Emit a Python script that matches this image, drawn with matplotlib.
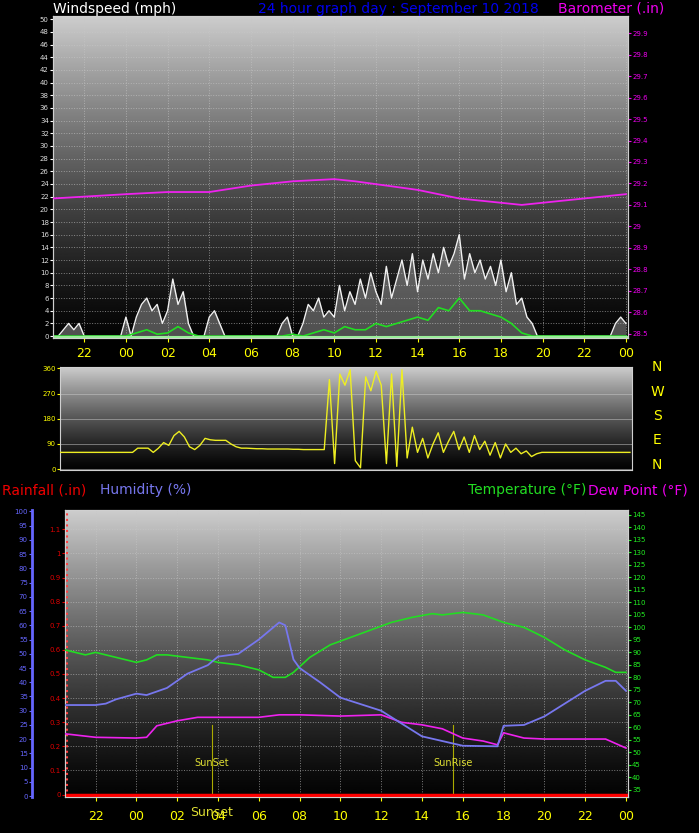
import numpy as np
import matplotlib
matplotlib.use("Agg")
import matplotlib.pyplot as plt

# ---------------- data ----------------
hour_ticks = [-2, 0, 2, 4, 6, 8, 10, 12, 14, 16, 18, 20, 22, 24]
hour_labels = ["22", "00", "02", "04", "06", "08", "10", "12", "14", "16", "18", "20", "22", "00"]

t_q = [-3.5 + 0.25 * i for i in range(111)]  # quarter-hour sample times
wind_gust = [0, 0, 1, 2, 1, 2, 0, 0, 0, 0, 0, 0, 0, 0,
             3, 0, 3, 5, 6, 4, 5, 2, 4, 9, 5, 7, 2, 0,
             0, 0, 3, 4, 2, 0,
             0, 0, 0, 0, 0, 0, 0, 0, 0, 0,
             2, 3, 0, 0, 2, 5, 4, 6, 3, 4, 3, 8, 4,
             7, 5, 9, 6, 10, 7, 5, 11, 6, 9, 12, 8, 13, 7, 12, 9, 13, 10, 14, 11, 13, 16,
             9, 13, 10, 12, 9, 11, 8, 12, 7, 10, 5, 6, 3, 2, 0,
             0, 0, 0, 0, 0, 0, 0, 0, 0, 0, 0, 0, 0, 0,
             2, 3, 2]
wind_dir = [60] * 14 + [60, 75, 75, 75, 60, 75, 95, 85, 120, 135, 115, 80, 70, 85, 110, 105, 103, 103, 103, 90, 80] + \
           [75, 75, 74, 73, 73, 72, 72, 72, 72, 72, 71, 71, 70, 70, 70, 70, 70] + \
           [320, 20, 340, 300, 355, 30, 5, 330, 280, 350, 300, 20, 340, 10, 355, 40] + \
           [150, 60, 110, 40, 90, 130, 60, 100, 135, 70, 115, 60, 120, 70, 100, 50, 95, 40, 90, 60, 75, 55, 65, 45, 55] + \
           [60] * 18

t_h = [-3.5 + 0.5 * i for i in range(56)]
wind_avg = [0] * 8 + [0.5, 1, 0.3, 0.5, 1.5, 0.5, 0] + [0] * 8 + \
           [0.3, 0, 0.5, 1, 0.5, 1.5, 1, 1, 2, 1.5, 2, 2.5, 3, 2.5, 4.5, 4, 6, 4, 4, 3.5, 3, 2, 0.5] + [0] * 10

baro_t = [-3.5, 0, 2, 4, 6, 8, 10, 11, 14, 16, 18, 19, 21, 23, 24]
baro = [29.13, 29.15, 29.16, 29.16, 29.19, 29.21, 29.22, 29.21, 29.17, 29.13, 29.11, 29.10, 29.12, 29.14, 29.15]

temp_t = [-3.5, -2.5, -2, -1, 0, 0.5, 1, 1.5, 2.5, 3.5, 4, 5, 6, 6.7, 7.3, 7.7, 8.5, 9.5, 10.5, 11.5,
          12.5, 13.5, 14.5, 15, 16, 17, 18, 19, 20, 21, 22, 23, 23.5, 24]
temp = [91, 89, 90, 88, 86, 87, 89, 89, 88, 87, 86, 85, 83, 80, 80, 82, 88, 93, 96, 99,
        102, 104, 105.5, 105, 106, 105, 102, 100, 96, 91, 87, 84, 82, 82]

hum_t = [-3.5, -2, -1.5, -1, 0, 0.5, 1.5, 2.5, 3.5, 4, 5, 6, 7, 7.3, 7.7, 8, 9, 10, 12, 14, 16, 17.7, 18, 19, 20, 22, 23, 23.5, 24]
hum = [32, 32, 32.5, 34, 36, 35.5, 38, 43, 46, 49, 50, 55, 61, 60, 48, 45, 40, 34.6, 30, 21, 17.7, 17.5, 24.7, 25, 28, 37, 40.5, 40.5, 37]

dew_t = [-3.5, -2, 0, 0.5, 1, 2, 3, 4, 6, 7, 8, 10, 12, 13, 14, 15, 16, 17, 17.7, 18, 19, 20, 23, 24]
dew = [57.4, 56, 55.7, 56, 60.6, 62.6, 64, 64, 64, 65, 65, 64.5, 65, 62, 61, 59.4, 55.7, 54.5, 53, 57.8, 55.7, 55.3, 55.3, 51.7]

rain_t = [-3.5, 24]
rain = [0, 0]

sunset_t = 3.7
sunrise_t = 15.5

# ---------------- figure ----------------
W, H = 699, 833
fig = plt.figure(figsize=(W / 100, H / 100), dpi=100, facecolor="black")
XL = (-3.5, 24.1)


def rect(l, t, r, b):
    return [l / W, 1 - b / H, (r - l) / W, (b - t) / H]


def background(ax):
    grad = np.linspace(0, 1, 256).reshape(-1, 1)
    ax.imshow(grad ** 1.3, extent=[0, 1, 0, 1], transform=ax.transAxes, cmap="gray",
              vmin=-0.02, vmax=1.25, aspect="auto", zorder=0, origin="lower")
    ax.set_facecolor("black")


def style(ax):
    for s in ax.spines.values():
        s.set_color("#d0d0d0")
    ax.set_xlim(*XL)
    ax.set_xticks(hour_ticks)
    ax.grid(True, color="#c8c8c8", linestyle=":", linewidth=0.7, alpha=0.6, zorder=1)


# ---- top panel ----
ax1 = fig.add_axes(rect(53, 16, 628, 338))
background(ax1)
style(ax1)
ax1.set_ylim(-0.3, 50.5)
ax1.set_yticks(range(0, 51, 2))
ax1.tick_params(axis="y", colors="white", labelsize=5, length=2, pad=1)
ax1.set_xticklabels(hour_labels)
ax1.tick_params(axis="x", colors="yellow", labelsize=9, length=3, labelcolor="yellow")
for lab in ax1.get_yticklabels():
    lab.set_color("#dddddd")
ax1.fill_between(t_q, 0, wind_gust, color="#e0e0e0", alpha=0.35, lw=0, zorder=2)
ax1.plot(t_q, wind_gust, color="#f0f0f0", lw=1.0, zorder=3)
ax1.plot(t_h, wind_avg, color="#22dd22", lw=1.2, zorder=4)
ax1.axhline(-0.15, color="#99ee99", lw=1.5, zorder=4)
ax1b = ax1.twinx()
ax1b.set_xlim(*XL)
ax1b.set_ylim(28.48, 29.98)
ax1b.set_yticks([28.5, 28.6, 28.7, 28.8, 28.9, 29, 29.1, 29.2, 29.3, 29.4, 29.5, 29.6, 29.7, 29.8, 29.9])
ax1b.set_yticklabels(["28.5", "28.6", "28.7", "28.8", "28.9", "29", "29.1", "29.2", "29.3", "29.4",
                      "29.5", "29.6", "29.7", "29.8", "29.9"])
ax1b.tick_params(axis="y", colors="#ee00ee", labelsize=5, length=2, pad=1)
ax1b.plot(baro_t, baro, color="#ee22ee", lw=1.3, zorder=5)
for s in ax1b.spines.values():
    s.set_color("#d0d0d0")
fig.text(53 / W, 1 - 9 / H, "Windspeed (mph)", color="white", fontsize=10, va="center")
fig.text(258 / W, 1 - 9 / H, "24 hour graph day : September 10 2018", color="#0000ee", fontsize=10, va="center")
fig.text(558 / W, 1 - 9 / H, "Barometer (.in)", color="#ee00ee", fontsize=10, va="center")

# ---- middle panel ----
ax2 = fig.add_axes(rect(60, 367, 632, 470))
background(ax2)
ax2.set_xlim(*XL)
ax2.set_ylim(-3, 365)
ax2.set_yticks([0, 90, 180, 270, 360])
ax2.set_xticks([])
ax2.tick_params(axis="y", colors="yellow", labelsize=5, length=2, pad=1)
ax2.grid(True, axis="y", color="#c8c8c8", linestyle="-", linewidth=0.6, alpha=0.6, zorder=1)
for s in ax2.spines.values():
    s.set_color("#d0d0d0")
ax2.plot(t_q, wind_dir, color="#eeee22", lw=1.0, zorder=3)
for i, c in enumerate(["N", "W", "S", "E", "N"]):
    fig.text(657 / W, 1 - (367 + i * 24.5) / H, c, color="yellow", fontsize=10, ha="center", va="center")

# ---- bottom panel ----
ax3 = fig.add_axes(rect(65, 510, 628, 797))
background(ax3)
style(ax3)
ax3.set_ylim(-0.01, 1.18)
ax3.set_yticks([0, 0.1, 0.2, 0.3, 0.4, 0.5, 0.6, 0.7, 0.8, 0.9, 1, 1.1])
ax3.set_yticklabels(["0", "0.1", "0.2", "0.3", "0.4", "0.5", "0.6", "0.7", "0.8", "0.9", "1", "1.1"])
ax3.tick_params(axis="y", colors="#dd0000", labelsize=5, length=2, pad=1)
ax3.set_xticklabels(hour_labels)
ax3.tick_params(axis="x", colors="yellow", labelsize=9, length=3, pad=6)
ax3.axvline(XL[0] + 0.1, color="#ff4040", lw=1.5, ls=":", zorder=3)
ax3.plot(rain_t, rain, color="#ff0000", lw=2.5, zorder=6)
ax3.axvline(sunset_t, ymax=0.25, color="#aaaa00", lw=0.8, zorder=2)
ax3.axvline(sunrise_t, ymax=0.25, color="#aaaa00", lw=0.8, zorder=2)
ax3.text(sunset_t, 0.12, "SunSet", color="#dddd33", fontsize=7, ha="center")
ax3.text(sunrise_t, 0.12, "SunRise", color="#dddd33", fontsize=7, ha="center")
ax3.text(sunset_t, -0.075, "Sunset", color="#dddd33", fontsize=9, ha="center", va="center")

ax3t = ax3.twinx()
ax3t.set_xlim(*XL)
ax3t.set_ylim(32.1, 147)
ax3t.set_yticks(range(35, 146, 5))
ax3t.tick_params(axis="y", colors="#22ee22", labelsize=5, length=2, pad=1)
ax3t.plot(temp_t, temp, color="#22dd22", lw=1.2, zorder=5)
ax3t.plot(dew_t, dew, color="#ee22ee", lw=1.2, zorder=5)
for s in ax3t.spines.values():
    s.set_color("#d0d0d0")

ax3h = ax3.twinx()
ax3h.set_xlim(*XL)
ax3h.set_ylim(-0.3, 100.5)
ax3h.plot(hum_t, hum, color="#7777ee", lw=1.3, zorder=5)
ax3h.yaxis.set_ticks_position("left")
ax3h.yaxis.set_label_position("left")
ax3h.spines["left"].set_position(("axes", -33 / 563))
ax3h.spines["left"].set_color("#6666ff")
ax3h.spines["left"].set_linewidth(2)
for k in ["right", "top", "bottom"]:
    ax3h.spines[k].set_visible(False)
ax3h.set_yticks(range(0, 101, 5))
ax3h.tick_params(axis="y", colors="#6666ff", labelsize=5, length=2, pad=1)

fig.text(2 / W, 1 - 490 / H, "Rainfall (.in)", color="#ee0000", fontsize=10, va="center")
fig.text(100 / W, 1 - 490 / H, "Humidity (%)", color="#7777ee", fontsize=10, va="center")
fig.text(468 / W, 1 - 490 / H, "Temperature (°F)", color="#22dd22", fontsize=10, va="center")
fig.text(588 / W, 1 - 490 / H, "Dew Point (°F)", color="#ee00ee", fontsize=10, va="center")

fig.savefig("out.png", dpi=100, facecolor="black")
